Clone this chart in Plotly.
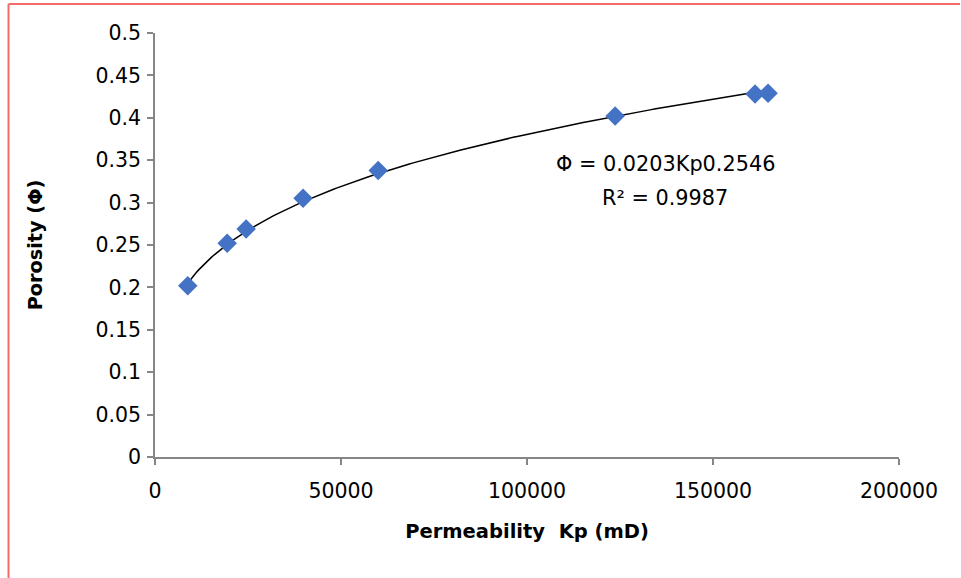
import numpy as np
import plotly.graph_objects as go

kp = [8800, 19400, 24500, 39800, 60000, 123700, 161300, 164800]
phi = [0.202, 0.252, 0.269, 0.305, 0.338, 0.402, 0.428, 0.429]
fit_coef = 0.0203
fit_exp = 0.2546
eq_text = "Φ = 0.0203Kp0.2546"
r2_text = "R² = 0.9987"
x_ticks = [0, 50000, 100000, 150000, 200000]
y_ticks = [0, 0.05, 0.1, 0.15, 0.2, 0.25, 0.3, 0.35, 0.4, 0.45, 0.5]

FONT = "DejaVu Sans"
xs = np.linspace(min(kp), max(kp), 200)
ys = fit_coef * xs ** fit_exp

fig = go.Figure()
fig.add_trace(go.Scatter(x=xs, y=ys, mode="lines", line=dict(color="black", width=1.5),
                         hoverinfo="skip", showlegend=False))
fig.add_trace(go.Scatter(x=kp, y=phi, mode="markers",
                         marker=dict(symbol="diamond", size=15, color="#4472C4"),
                         showlegend=False))

axis_common = dict(showgrid=False, zeroline=False, showline=True, linecolor="#868686",
                   linewidth=1.5, ticks="outside", tickcolor="#868686", ticklen=6,
                   tickwidth=1.5, tickfont=dict(family=FONT, size=20.5, color="black"))
fig.update_xaxes(range=[0, 200000], tickvals=x_ticks, ticktext=[str(v) for v in x_ticks],
                 ticklabelstandoff=9,
                 title=dict(text="<b>Permeability\u00a0 Kp (mD)</b>",
                            font=dict(family=FONT, size=19.5, color="black"), standoff=22),
                 **axis_common)
fig.update_yaxes(range=[0, 0.5], tickvals=y_ticks, ticktext=[f"{v:g}" for v in y_ticks],
                 ticklabelstandoff=2,
                 title=dict(text="<b>Porosity (Φ)</b>",
                            font=dict(family=FONT, size=19.3, color="black"), standoff=48),
                 **axis_common)

fig.add_annotation(x=137100, y=0.346, xref="x", yref="y", text=eq_text, showarrow=False,
                   font=dict(family=FONT, size=20.8, color="black"))
fig.add_annotation(x=137100, y=0.306, xref="x", yref="y", text=r2_text, showarrow=False,
                   font=dict(family=FONT, size=20.8, color="black"))

red = "#F46A6A"
fig.add_shape(type="line", xref="paper", yref="paper", x0=-0.1969, x1=1.082, y0=1.0684, y1=1.0684,
              line=dict(color=red, width=2))
fig.add_shape(type="line", xref="paper", yref="paper", x0=-0.1969, x1=-0.1969, y0=1.0684, y1=-0.3,
              line=dict(color=red, width=2))

fig.update_layout(width=961, height=578, margin=dict(l=155, r=62, t=33, b=121),
                  plot_bgcolor="white", paper_bgcolor="white")
fig.write_html("out.html")
